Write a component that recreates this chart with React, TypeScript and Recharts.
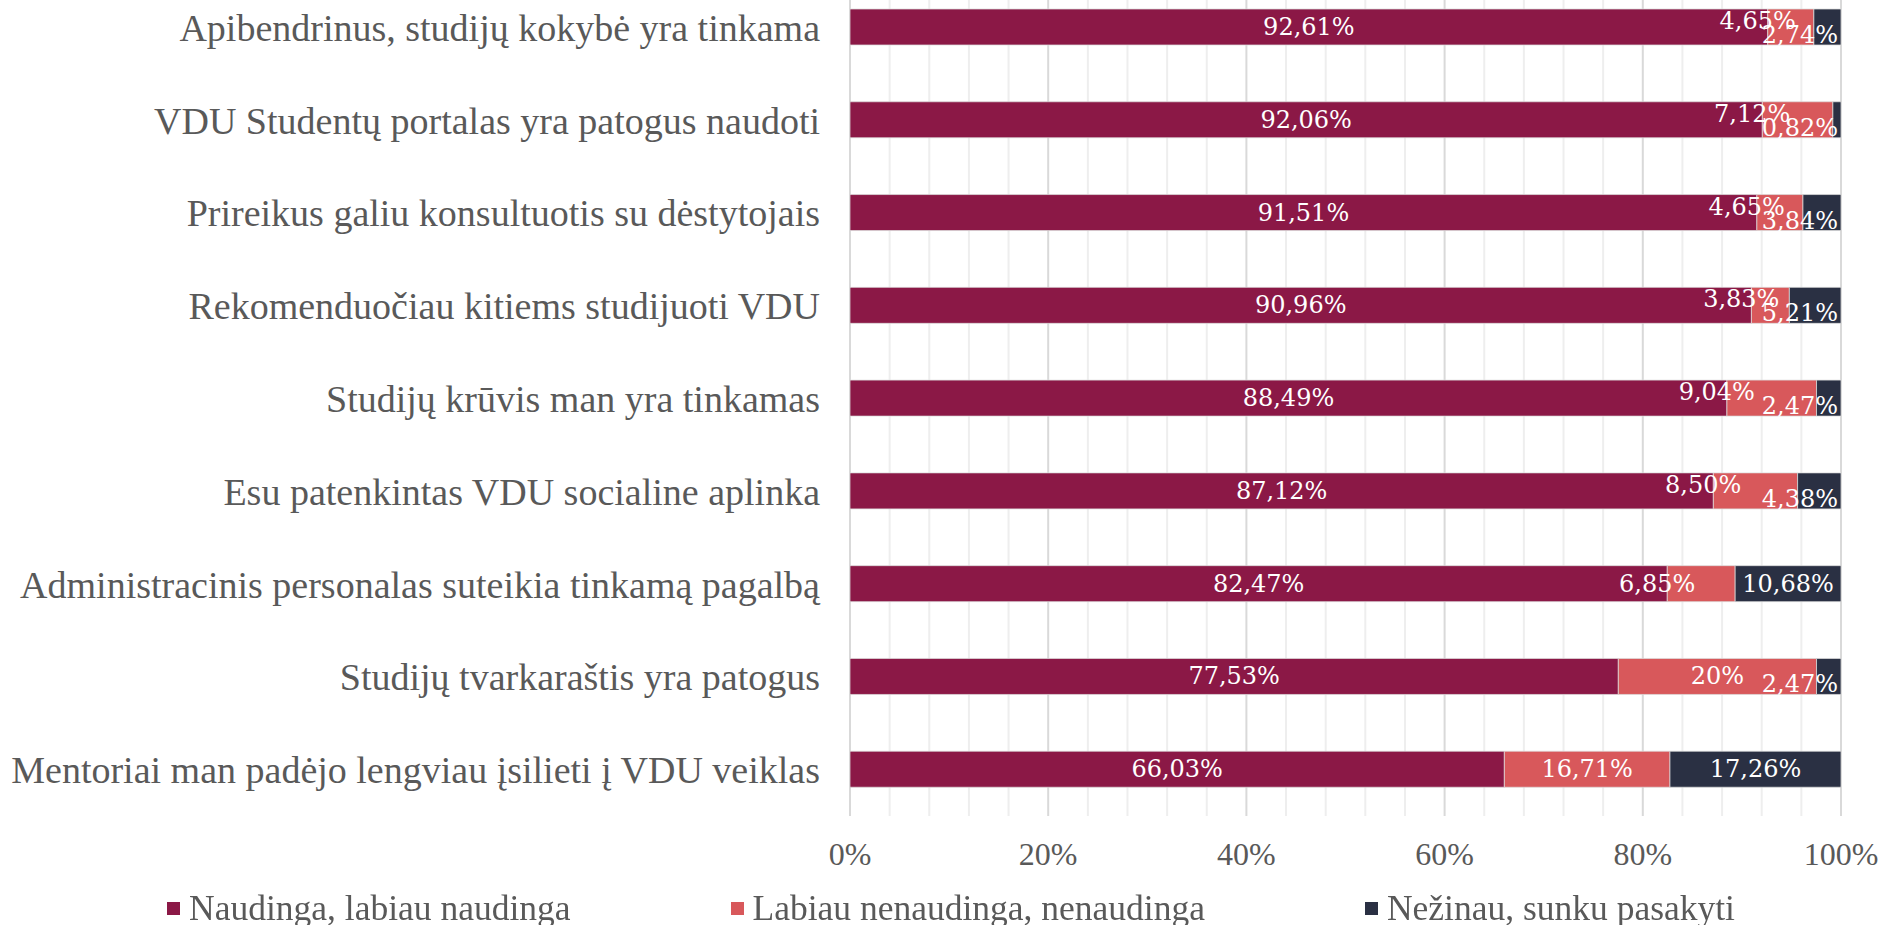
import React from "react";
import {
  Bar,
  BarChart,
  CartesianGrid,
  LabelList,
  Legend,
  XAxis,
  YAxis,
} from "recharts";

const categories = [
  "Apibendrinus, studijų kokybė yra tinkama",
  "VDU Studentų portalas yra patogus naudoti",
  "Prireikus galiu konsultuotis su dėstytojais",
  "Rekomenduočiau kitiems studijuoti VDU",
  "Studijų krūvis man yra tinkamas",
  "Esu patenkintas VDU socialine aplinka",
  "Administracinis personalas suteikia tinkamą pagalbą",
  "Studijų tvarkaraštis yra patogus",
  "Mentoriai man padėjo lengviau įsilieti į VDU veiklas",
];

const useful = [92.61, 92.06, 91.51, 90.96, 88.49, 87.12, 82.47, 77.53, 66.03];
const notUseful = [4.65, 7.12, 4.65, 3.83, 9.04, 8.5, 6.85, 20, 16.71];
const dontKnow = [2.74, 0.82, 3.84, 5.21, 2.47, 4.38, 10.68, 2.47, 17.26];

const seriesNames = [
  "Naudinga, labiau naudinga",
  "Labiau nenaudinga, nenaudinga",
  "Nežinau, sunku pasakyti",
];
const colors = ["#8b1846", "#d8585b", "#2a3043"];

const xTicks = [0, 20, 40, 60, 80, 100];
const minorTicks = [4, 8, 12, 16, 24, 28, 32, 36, 44, 48, 52, 56, 64, 68, 72, 76, 84, 88, 92, 96];

const data = categories.map((name, i) => ({
  name,
  useful: useful[i],
  notUseful: notUseful[i],
  dontKnow: dontKnow[i],
}));

const TEXT = "#595959";
const SERIF = "'Liberation Serif', 'DejaVu Serif', serif";
const LABEL_FONT = "'DejaVu Serif', serif";

function fmt(v: number) {
  if (Number.isInteger(v)) return `${v}%`;
  return `${v.toFixed(2).replace(".", ",")}%`;
}

// small segments: labels pushed left/up (middle series) and down (last series), like the source
function makeLabel(kind: "useful" | "notUseful" | "dontKnow") {
  return (props: any) => {
    const x = Number(props.x);
    const y = Number(props.y);
    const w = Number(props.width);
    const h = Number(props.height);
    const v = Number(props.value);
    const idx = Number(props.index);
    let tx = x + w / 2;
    let anchor: "middle" | "end" = "middle";
    let dy = 0;
    if (kind === "notUseful" && v < 10) {
      tx = x + 28;
      anchor = "end";
      if (dontKnow[idx] < 6) dy = -6;
    }
    if (kind === "dontKnow" && v < 6) {
      tx = x + w - 3;
      anchor = "end";
      dy = 8;
    }
    return (
      <text
        x={tx}
        y={y + h / 2 + dy}
        textAnchor={anchor}
        dominantBaseline="central"
        fill="#ffffff"
        fontFamily={LABEL_FONT}
        fontSize={24}
      >
        {fmt(v)}
      </text>
    );
  };
}

function gridGen(values: number[]) {
  return (p: any) => {
    const axis = p.xAxis;
    if (axis && typeof axis.scale === "function") {
      return values.map((t) => axis.scale(t));
    }
    const off = p.offset;
    return values.map((t) => off.left + (off.width * t) / 100);
  };
}

function LegendContent() {
  return (
    <div
      style={{
        display: "flex",
        alignItems: "center",
        height: 34,
        paddingLeft: 167,
        fontFamily: SERIF,
        fontSize: 35.5,
        color: TEXT,
        whiteSpace: "nowrap",
      }}
    >
      {seriesNames.map((n, i) => (
        <div key={n} style={{ display: "flex", alignItems: "center", marginRight: 160 }}>
          <span
            style={{
              display: "inline-block",
              width: 13,
              height: 13,
              background: colors[i],
              marginRight: 9,
            }}
          />
          <span>{n}</span>
        </div>
      ))}
    </div>
  );
}

export default function App() {
  return (
    <div
      style={{
        position: "fixed",
        left: 0,
        top: -19,
        width: 1883,
        height: 944,
        background: "#ffffff",
      }}
    >
      <BarChart
        width={1883}
        height={944}
        data={data}
        layout="vertical"
        barSize={36}
        margin={{ top: 0, right: 42, left: 0, bottom: 0 }}
      >
        <CartesianGrid
          horizontal={false}
          stroke="#eeeeee"
          strokeWidth={2}
          verticalCoordinatesGenerator={gridGen(minorTicks)}
        />
        <CartesianGrid
          horizontal={false}
          stroke="#d9d9d9"
          strokeWidth={2}
          verticalCoordinatesGenerator={gridGen(xTicks)}
        />
        <XAxis
          type="number"
          domain={[0, 100]}
          ticks={xTicks}
          tickFormatter={(v) => `${v}%`}
          axisLine={false}
          tickLine={false}
          tickSize={0}
          tickMargin={26}
          height={75}
          tick={{ fill: TEXT, fontFamily: SERIF, fontSize: 32 }}
        />
        <YAxis
          type="category"
          dataKey="name"
          width={850}
          axisLine={false}
          tickLine={false}
          tickSize={0}
          tickMargin={30}
          interval={0}
          tick={{ fill: TEXT, fontFamily: SERIF, fontSize: 38 }}
        />
        <Legend verticalAlign="bottom" align="left" content={() => <LegendContent />} />
        <Bar
          dataKey="useful"
          name={seriesNames[0]}
          stackId="a"
          fill={colors[0]}
          stroke="#dcdcdc"
          strokeWidth={0.75}
          isAnimationActive={false}
        >
          <LabelList dataKey="useful" content={makeLabel("useful")} />
        </Bar>
        <Bar
          dataKey="notUseful"
          name={seriesNames[1]}
          stackId="a"
          fill={colors[1]}
          stroke="#dcdcdc"
          strokeWidth={0.75}
          isAnimationActive={false}
        >
          <LabelList dataKey="notUseful" content={makeLabel("notUseful")} />
        </Bar>
        <Bar
          dataKey="dontKnow"
          name={seriesNames[2]}
          stackId="a"
          fill={colors[2]}
          stroke="#dcdcdc"
          strokeWidth={0.75}
          isAnimationActive={false}
        >
          <LabelList dataKey="dontKnow" content={makeLabel("dontKnow")} />
        </Bar>
      </BarChart>
    </div>
  );
}
